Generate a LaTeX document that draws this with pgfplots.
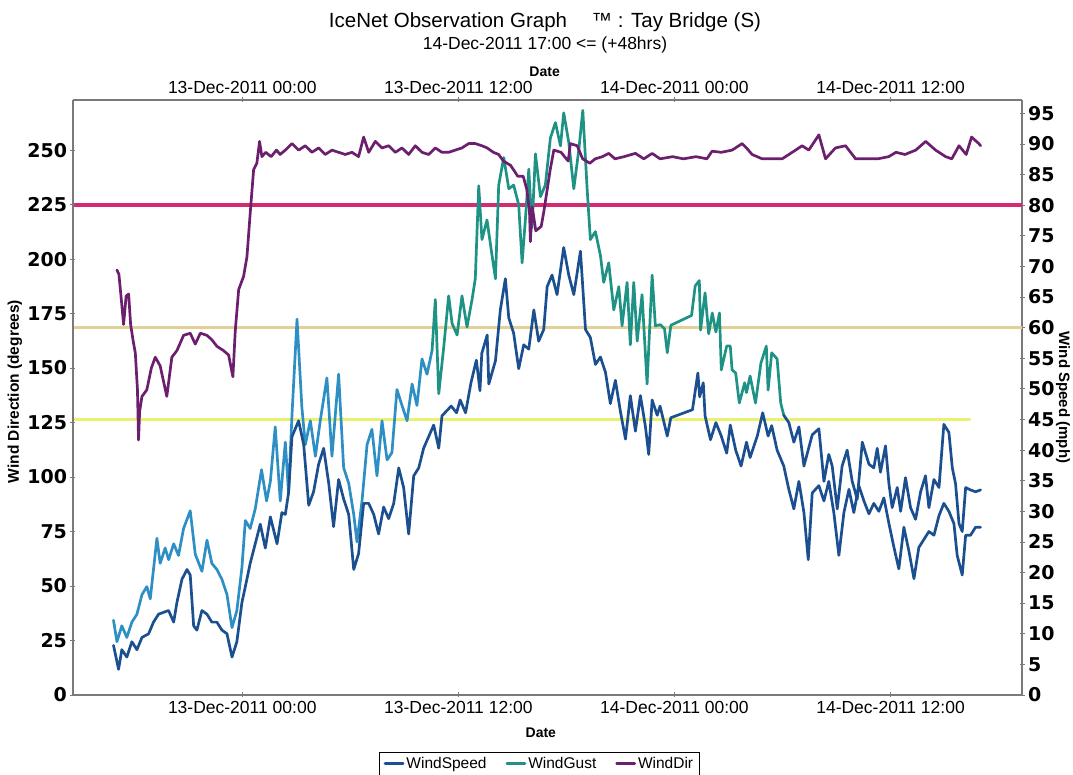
\documentclass[border=0pt]{standalone}
\usepackage{pgfplots}
\pgfplotsset{compat=1.18}
\usepackage{fontspec}
\setmainfont{Liberation Sans}
\newfontfamily\numfont{DejaVu Sans}

\definecolor{speedc}{HTML}{1B4F8F}
\definecolor{gustb}{HTML}{2E8FC4}
\definecolor{gustg}{HTML}{1E9385}
\definecolor{dirc}{HTML}{6B1F6E}
\definecolor{thrmag}{HTML}{D42A72}
\definecolor{thrtan}{HTML}{E2D096}
\definecolor{thryel}{HTML}{ECF070}
\definecolor{framec}{HTML}{7A7A7A}

\pgfplotsset{
  obsbase/.style={
    at={(0pt,0pt)}, anchor=south west,
    width=949pt, height=595pt, scale only axis,
    xmin=-9.4, xmax=43.3,
    xtick={0,12,24,36},
    xticklabels={13-Dec-2011 00:00,13-Dec-2011 12:00,14-Dec-2011 00:00,14-Dec-2011 12:00},
    tick align=outside, major tick length=5pt,
    tick style={draw=framec, line width=0.9pt},
    xticklabel style={font=\fontsize{17.5}{18}\selectfont},
    yticklabel style={font=\numfont\bfseries\fontsize{19}{19}\selectfont},
    /pgf/number format/assume math mode=true,
    every axis plot/.append style={line join=round, line cap=round},
  },
}

\begin{document}
\begin{tikzpicture}
\useasboundingbox (-73pt,-80pt) rectangle (1000pt,695pt);

% wind speed axis (right) with the date scale on top
\begin{axis}[obsbase,
  ymin=0, ymax=97.2, ytick={0,5,...,95},
  axis x line=top, axis y line=right,
  axis line style={-, draw=framec, line width=1.1pt},
  xlabel={Date}, ylabel={Wind Speed (mph)},
  every axis x label/.style={at={(axis description cs:0.497,1.047)}, anchor=center,
    font=\bfseries\fontsize{14}{14}\selectfont},
  every axis y label/.style={at={(axis description cs:1,0.5)}, xshift=41pt, rotate=-90,
    anchor=center, font=\bfseries\fontsize{15}{15}\selectfont},
]
% warning thresholds
\addplot[thryel, line width=3pt] coordinates {(-9.4,45) (40.4,45)};
\addplot[thrtan, line width=3pt] coordinates {(-9.4,60) (43.3,60)};
\addplot[thrmag, line width=3.8pt] coordinates {(-9.4,80) (43.3,80)};
% WindGust
\addplot[gustb, line width=2.7pt] coordinates {
(-7.15,12.2)(-6.96,8.7)(-6.69,11.3)(-6.41,9.4)(-6.13,11.9)(-5.85,13.2)(-5.57,16.4)(-5.30,17.7)
(-5.11,15.7)(-4.74,25.6)(-4.56,21.5)(-4.28,24.0)(-4.09,22.1)(-3.81,24.7)(-3.54,22.8)(-3.26,27.2)
(-2.89,30.1)(-2.61,23.0)(-2.24,20.2)(-1.96,25.3)(-1.69,21.5)(-1.41,20.5)(-1.13,18.9)(-0.85,16.4)
(-0.57,11.0)(-0.30,13.8)(-0.02,20.8)(0.17,28.5)(0.44,27.2)(0.72,30.4)(1.07,36.8)(1.35,31.7)
(1.56,34.9)(1.83,43.8)(2.11,31.7)(2.39,41.3)(2.57,33.0)(2.76,45.7)(3.04,61.4)(3.31,47.0)
(3.50,40.9)(3.78,44.8)(4.06,39.0)(4.33,44.8)(4.70,51.8)(4.98,39.0)(5.35,52.4)(5.63,37.1)
(5.91,34.6)(6.19,29.5)(6.37,25.0)(6.65,31.7)(6.93,40.9)(7.20,43.4)(7.48,35.8)(7.76,44.8)
(8.04,38.4)(8.31,39.6)(8.59,49.9)(8.87,47.3)(9.15,44.8)(9.43,50.8)(9.70,47.3)(9.98,54.9)
(10.26,52.4)(10.54,56.3)};
\addplot[gustg, line width=2.7pt] coordinates {
(10.54,56.3)(10.72,64.6)(10.91,49.2)(11.19,56.9)(11.46,65.2)(11.65,60.7)(11.93,58.8)(12.20,65.2)
(12.48,60.1)(12.76,64.6)(12.94,68.0)(13.13,83.2)(13.31,74.4)(13.59,77.6)(13.87,71.8)(14.06,68.0)
(14.24,83.3)(14.52,87.8)(14.80,82.7)(15.07,83.3)(15.35,80.1)(15.54,70.6)(15.72,77.6)(15.91,85.9)
(16.09,76.3)(16.28,88.4)(16.56,81.4)(16.83,83.3)(17.11,91.0)(17.39,93.5)(17.67,89.7)(17.85,95.1)
(18.13,90.3)(18.41,82.7)(18.69,89.1)(18.91,95.5)(19.15,82.7)(19.33,74.4)(19.61,75.7)(19.89,71.8)
(20.07,67.4)(20.35,70.6)(20.63,62.9)(20.91,66.7)(21.09,60.3)(21.37,67.4)(21.55,57.2)(21.74,67.4)
(21.93,57.8)(22.20,65.4)(22.48,50.8)(22.76,68.6)(22.94,60.3)(23.22,60.5)(23.45,59.8)(23.6,55.9)
(23.8,60.4)(24.95,62.0)(25.15,66.8)(25.38,67.7)(25.45,59.6)(25.7,65.7)(25.9,59.0)(26.1,62.4)
(26.3,59.3)(26.5,62.4)(26.6,53.1)(26.9,57.0)(27.1,57.0)(27.2,53.1)(27.4,52.6)(27.6,47.7)
(27.9,51.0)(28.0,49.4)(28.2,52.1)(28.5,47.7)(28.8,54.2)(29.1,57.0)(29.2,49.8)(29.4,55.9)
(29.7,54.9)(29.9,47.7)(30.07,45.7)};
\addplot[speedc, line width=2.7pt] coordinates {
(30.07,45.7)(30.35,44.5)(30.63,41.3)(30.91,43.8)(31.19,37.4)(31.65,42.5)(32.02,43.5)(32.30,34.9)
(32.57,39.3)(32.76,37.4)(33.04,30.4)(33.31,37.4)(33.59,40.0)(33.87,34.9)(34.15,32.0)(34.43,41.3)
(34.80,37.7)(35.07,37.1)(35.26,40.3)(35.44,36.4)(35.72,40.7)(35.91,34.5)(36.09,30.6)(36.37,33.9)
(36.56,30.0)(36.83,35.5)(37.11,30.6)(37.39,28.7)(37.67,33.2)(37.94,35.8)(38.13,30.6)(38.41,35.2)
(38.69,33.9)(38.96,44.2)(39.24,42.9)(39.43,37.1)(39.61,34.5)(39.80,28.0)(39.98,26.7)(40.17,33.9)
(40.44,33.5)(40.72,33.2)(41.0,33.5)};
% WindSpeed
\addplot[speedc, line width=2.7pt] coordinates {
(-7.15,8.1)(-6.87,4.2)(-6.69,7.4)(-6.41,6.2)(-6.13,8.7)(-5.85,7.4)(-5.57,9.4)(-5.20,10.0)
(-4.93,11.9)(-4.65,13.2)(-4.37,13.5)(-4.09,13.8)(-3.81,11.9)(-3.63,15.1)(-3.35,18.9)(-3.07,20.5)
(-2.89,19.6)(-2.70,11.3)(-2.52,10.6)(-2.24,13.8)(-1.96,13.2)(-1.69,11.9)(-1.41,11.9)(-1.13,10.6)
(-0.85,10.0)(-0.57,6.2)(-0.30,8.7)(-0.02,15.1)(0.17,17.7)(0.44,21.5)(0.72,24.7)(1.00,27.9)
(1.28,24.0)(1.56,29.1)(1.93,24.7)(2.20,29.8)(2.39,29.5)(2.57,33.0)(2.76,42.2)(3.13,44.8)
(3.41,40.9)(3.69,31.0)(3.96,33.2)(4.24,37.7)(4.52,40.3)(4.80,34.6)(5.07,27.5)(5.35,35.2)
(5.63,32.0)(5.91,29.5)(6.19,20.5)(6.46,23.1)(6.74,31.3)(7.02,31.3)(7.30,29.5)(7.57,26.3)
(7.85,30.7)(8.13,28.8)(8.41,31.3)(8.69,37.1)(8.96,33.9)(9.24,26.3)(9.52,35.8)(9.80,37.1)
(10.07,40.3)(10.35,42.2)(10.63,44.1)(10.91,40.3)(11.09,45.6)(11.6,47.2)(11.9,46.1)(12.1,48.2)
(12.4,46.1)(12.7,51.0)(13.0,54.7)(13.2,49.7)(13.3,55.8)(13.6,58.8)(13.69,50.8)(14.06,54.6)(14.33,62.9)
(14.61,68.0)(14.80,61.6)(15.07,59.1)(15.35,53.3)(15.63,57.2)(15.91,56.5)(16.19,62.9)(16.46,57.8)
(16.74,59.7)(16.93,66.7)(17.20,68.6)(17.48,65.4)(17.85,73.1)(18.13,68.6)(18.41,65.4)(18.78,72.5)
(19.06,59.7)(19.33,58.4)(19.61,54.0)(19.89,55.2)(20.17,52.7)(20.44,47.6)(20.72,51.4)(21.00,46.3)
(21.28,41.8)(21.55,48.9)(21.83,43.1)(22.11,48.9)(22.39,43.8)(22.57,39.3)(22.76,48.2)(23.04,45.7)
(23.2,47.2)(23.6,42.3)(23.8,45.3)(25.0,46.6)(25.3,52.6)(25.4,48.7)(25.6,51.0)(25.7,45.6)
(26.0,41.7)(26.3,44.5)(26.6,42.3)(26.9,39.5)(27.1,44.1)(27.4,40.0)(27.7,37.4)(28.0,41.3)
(28.2,38.8)(28.6,42.3)(28.9,46.1)(29.2,42.3)(29.4,44.0)(29.7,40.0)(30.07,37.4)(30.35,33.6)
(30.63,30.4)(30.91,34.9)(31.19,29.8)(31.43,22.1)(31.65,33.0)(32.02,34.2)(32.30,31.7)(32.57,34.9)
(32.85,29.8)(33.13,22.8)(33.41,29.8)(33.69,33.6)(33.96,29.8)(34.24,34.2)(34.52,31.7)(34.80,29.6)
(35.07,31.3)(35.35,30.0)(35.63,32.2)(35.91,28.0)(36.19,24.1)(36.46,20.6)(36.74,27.4)(37.02,23.5)
(37.30,19.0)(37.57,24.1)(37.85,25.4)(38.13,26.7)(38.41,26.1)(38.69,29.3)(38.96,31.3)(39.24,30.0)
(39.52,28.0)(39.70,22.8)(39.98,19.6)(40.17,26.1)(40.44,26.1)(40.72,27.4)(41.0,27.4)};
\end{axis}

% wind direction axis (left) with the date scale at the bottom
\begin{axis}[obsbase,
  ymin=0, ymax=273, ytick={0,25,...,250},
  axis x line=bottom, axis y line=left,
  axis line style={-, draw=framec, line width=1.1pt},
  xlabel={Date}, ylabel={Wind Direction (degrees)},
  every axis x label/.style={at={(axis description cs:0.493,-0.064)}, anchor=center,
    font=\bfseries\fontsize{14}{14}\selectfont},
  every axis y label/.style={at={(axis description cs:0,0.51)}, xshift=-58pt, rotate=90,
    anchor=center, font=\bfseries\fontsize{15.5}{15.5}\selectfont},
  legend columns=3,
  legend style={at={(axis description cs:0.4915,-0.0958)}, anchor=north,
    draw=black, line width=0.9pt, fill=white, inner xsep=4pt, inner ysep=3pt,
    font=\fontsize{15.5}{16}\selectfont,
    /tikz/every even column/.append style={column sep=17pt}},
  legend image code/.code={\draw[#1] (0pt,0pt) -- (18pt,0pt);},
]
\addlegendimage{speedc, line width=2.7pt}
\addlegendentry{WindSpeed}
\addlegendimage{gustg, line width=2.7pt}
\addlegendentry{WindGust}
\addplot[dirc, line width=2.7pt] coordinates {
(-6.96,195)(-6.85,193)(-6.70,180)(-6.59,170)(-6.45,183)(-6.31,184)(-6.20,170)(-6.05,162)
(-5.94,157)(-5.82,140)(-5.76,117)(-5.70,130)(-5.57,137)(-5.30,140)(-5.05,150)(-4.83,155)
(-4.56,151)(-4.19,137)(-3.91,155)(-3.63,158)(-3.26,165)(-2.89,166)(-2.61,161)(-2.33,166)
(-1.96,165)(-1.69,163)(-1.41,160)(-1.04,158)(-0.76,156)(-0.52,146)(-0.39,167)(-0.20,186)
(0.07,192)(0.26,201)(0.44,221)(0.63,241)(0.81,244)(0.96,254)(1.09,247)(1.3,249)(1.6,247)
(1.9,250)(2.1,248)(2.39,250)(2.76,253)(3.13,250)(3.5,252)(3.87,249)(4.24,251)(4.61,248)
(4.98,250)(5.35,249)(5.72,248)(6.09,249)(6.46,247)(6.74,256)(7.02,249)(7.39,254)(7.76,251)
(8.13,252)(8.5,249)(8.87,251)(9.24,248)(9.61,252)(9.98,249)(10.35,248)(10.72,251)(11.09,249)
(11.46,249)(11.83,250)(12.2,251)(12.57,253)(12.94,253)(13.31,252)(13.6,251)(13.94,249)
(14.24,248)(14.5,245)(14.9,243)(15.3,238)(15.6,238)(15.8,232)(15.95,222)(16.0,208)(16.1,224)
(16.3,213)(16.6,215)(16.75,222)(17.1,241)(17.3,250)(17.7,249)(18.1,245)(18.22,253)(18.6,252)
(18.9,246)(19.3,244)(19.6,246)(20.0,247)(20.35,248.5)(20.7,246)(21.2,247)(21.83,248.5)
(22.3,246)(22.76,248.5)(23.2,246)(23.9,247)(24.5,246)(25.2,247)(25.8,246)(26.09,249.5)
(26.6,249)(27.2,250)(27.76,253)(28.0,251)(28.31,248)(28.87,246)(29.4,246)(29.98,246)
(30.54,249)(31.09,252)(31.46,250)(31.7,253)(32.02,257)(32.39,246)(32.94,251)(33.5,252)
(34.06,246)(34.6,246)(35.3,246)(35.9,247)(36.3,249)(36.8,248)(37.4,250)(37.95,254)(38.5,250)
(39.06,247)(39.4,246)(39.8,252)(40.2,248)(40.5,256)(40.9,253)(41.0,252)};
\addlegendentry{WindDir}
\end{axis}

% chart heading
\node[font=\fontsize{20.5}{21}\selectfont] at (472pt,673pt)
  {IceNet Observation Graph\hspace{1.2em}™ : Tay Bridge (S)};
\node[font=\fontsize{17.5}{18}\selectfont] at (472pt,650pt)
  {14-Dec-2011 17:00 <= (+48hrs)};
\end{tikzpicture}
\end{document}
